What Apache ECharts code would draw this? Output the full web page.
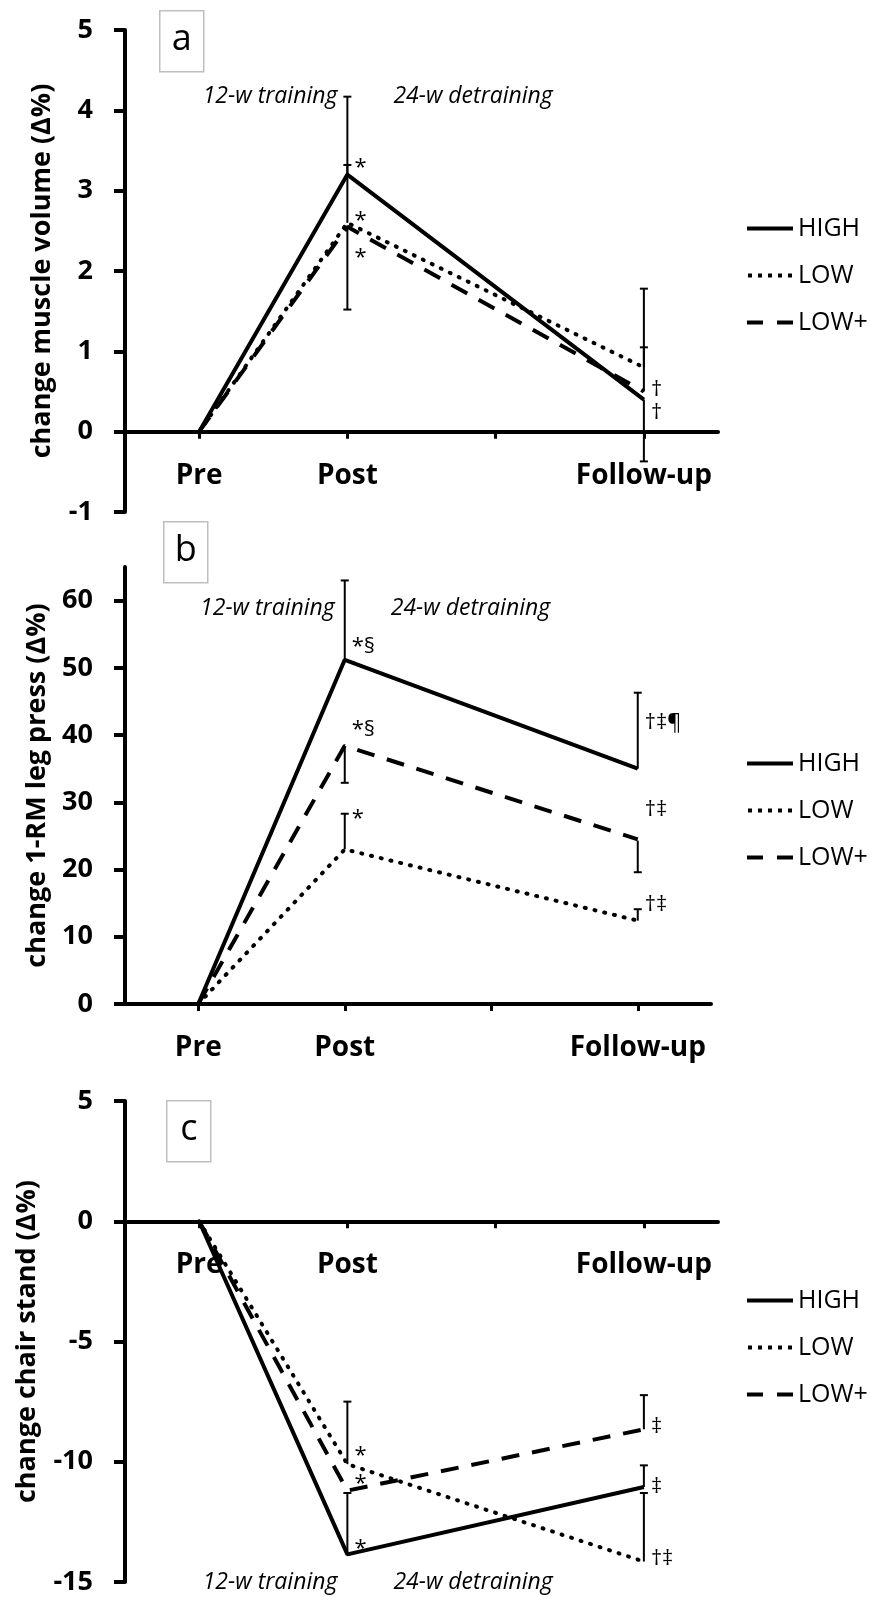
<!DOCTYPE html>
<html>
<head>
<meta charset="utf-8">
<title>change from Pre</title>
<script src="https://cdn.jsdelivr.net/npm/echarts@6.0.0/dist/echarts.min.js"></script>
<style>body{margin:0;background:#fff;}</style>
</head>
<body>
<div id="chartmain" style="width:870px;height:1597px;"></div>
<script>
// categories (blank slot keeps the spacing of the original x axis)
var categories = ['Pre', 'Post', '', 'Follow-up'];
var groups = ['HIGH', 'LOW', 'LOW+'];
var phaseLabels = ['12-w training', '24-w detraining'];

// a: muscle volume
var volHigh = [0, 3.2, null, 0.4];
var volLow = [0, 2.6, null, 0.8];
var volLowPlus = [0, 2.55, null, 0.5];
var volErr = [[1, 3.2, 4.17], [1, 2.6, 3.32], [1, 2.55, 1.52], [3, 0.4, -0.37], [3, 0.8, 1.78], [3, 0.5, 1.05]];
var volMarks = [[1, 3.28, '*'], [1, 2.62, '*'], [1, 2.17, '*'], [3, 0.52, '†'], [3, 0.23, '†']];
var volPhaseY = 4.17;

// b: 1-RM leg press
var legHigh = [0, 51.2, null, 35.0];
var legLow = [0, 23.0, null, 12.4];
var legLowPlus = [0, 38.4, null, 24.5];
var legErr = [[1, 51.2, 63.0], [1, 38.4, 32.9], [1, 23.0, 28.3], [3, 35.0, 46.3], [3, 24.3, 19.6], [3, 12.4, 14.1]];
var legMarks = [[1, 53.2, '*§'], [1, 40.8, '*§'], [1, 27.6, '*'], [3, 41.8, '†‡¶'], [3, 28.9, '†‡'], [3, 14.8, '†‡']];
var legPhaseY = 58.8;
var legTicks = [0, 10, 20, 30, 40, 50, 60];

// c: chair stand
var chairHigh = [0, -13.85, null, -11.05];
var chairLow = [0, -10.1, null, -14.15];
var chairLowPlus = [0, -11.2, null, -8.65];
var chairErr = [[1, -13.85, -11.3], [1, -10.1, -7.5], [3, -8.65, -7.23], [3, -11.05, -10.15], [3, -14.15, -11.3]];
var chairMarks = [[1, -9.75, '*'], [1, -10.9, '*'], [1, -13.6, '*'], [3, -8.55, '‡'], [3, -11.05, '‡'], [3, -14.05, '†‡']];
var chairPhaseY = -15;

var FONT = 'Open Sans';

function errBar(params, api) {
    var a = api.coord([api.value(0), api.value(1)]);
    var b = api.coord([api.value(0), api.value(2)]);
    return {
        type: 'group',
        children: [
            { type: 'line', shape: { x1: a[0], y1: a[1], x2: b[0], y2: b[1] }, style: { stroke: '#000', lineWidth: 2 } },
            { type: 'line', shape: { x1: b[0] - 4, y1: b[1], x2: b[0] + 4, y2: b[1] }, style: { stroke: '#000', lineWidth: 2 } }
        ]
    };
}

function markText(list) {
    return function (params, api) {
        var d = list[params.dataIndex];
        var p = api.coord([d[0], d[1]]);
        return {
            type: 'text', x: p[0] + 7, y: p[1],
            style: { text: d[2], fill: '#000', fontSize: 22, fontFamily: FONT, align: 'left', verticalAlign: 'middle' }
        };
    };
}

function phaseText(params, api) {
    var p = api.coord([api.value(0), api.value(1)]);
    var first = params.dataIndex === 0;
    return {
        type: 'text', x: p[0] + (first ? -10 : 46), y: p[1],
        style: {
            text: phaseLabels[params.dataIndex], fill: '#000', fontSize: 23, fontFamily: FONT,
            fontStyle: 'italic', align: first ? 'right' : 'left', verticalAlign: 'middle'
        }
    };
}

var panels = [
    { high: volHigh, low: volLow, lowPlus: volLowPlus, err: volErr, marks: volMarks, phaseY: volPhaseY },
    { high: legHigh, low: legLow, lowPlus: legLowPlus, err: legErr, marks: legMarks, phaseY: legPhaseY },
    { high: chairHigh, low: chairLow, lowPlus: chairLowPlus, err: chairErr, marks: chairMarks, phaseY: chairPhaseY }
];

var lineStyles = [
    { color: '#000', width: 4, type: 'solid' },
    { color: '#000', width: 4, type: [1, 9], cap: 'round' },
    { color: '#000', width: 4, type: [18, 13] }
];

// legend icons drawn as paths so the dash pattern reads like the original key
var legendIcons = [
    'path://M0,0H46V4H0Z',
    'path://M0,0h4v4h-4zM10,0h4v4h-4zM20,0h4v4h-4zM30,0h4v4h-4zM40,0h4v4h-4z',
    'path://M0,0h16v4h-16zM30,0h16v4h-16z'
];

var series = [];
panels.forEach(function (p, i) {
    [p.high, p.low, p.lowPlus].forEach(function (vals, k) {
        series.push({
            name: groups[k], type: 'line', xAxisIndex: i, yAxisIndex: i,
            data: vals, connectNulls: true, symbol: 'none',
            lineStyle: lineStyles[k], itemStyle: { color: '#000' }, z: 3
        });
    });
    series.push({
        type: 'custom', xAxisIndex: i, yAxisIndex: i, renderItem: errBar,
        encode: { x: 0, y: [1, 2] }, data: p.err, z: 2
    });
    series.push({
        type: 'custom', xAxisIndex: i, yAxisIndex: i, renderItem: markText(p.marks),
        encode: { x: 0, y: 1 }, data: p.marks.map(function (d) { return [d[0], d[1]]; }), z: 4
    });
    series.push({
        type: 'custom', xAxisIndex: i, yAxisIndex: i, renderItem: phaseText,
        encode: { x: 0, y: 1 }, data: [[1, p.phaseY], [1, p.phaseY]], z: 4
    });
});

// x axis sits on the zero line: shift it up from the grid bottom
function xAxis(i, offset) {
    return {
        type: 'category', gridIndex: i, data: categories, boundaryGap: true, offset: offset,
        axisLine: { onZero: false, lineStyle: { color: '#000', width: 4 } },
        axisTick: { show: true, alignWithLabel: true, length: 7, lineStyle: { color: '#000', width: 3 } },
        axisLabel: { interval: 0, margin: 30, color: '#000', fontSize: 28, fontWeight: 'bold', fontFamily: FONT },
        splitLine: { show: false }
    };
}

function yAxis(i, name, min, max, interval, gap) {
    return {
        type: 'value', gridIndex: i, min: min, max: max, interval: interval,
        name: name, nameLocation: 'middle', nameGap: gap,
        nameTextStyle: { color: '#000', fontSize: 27, fontWeight: 'bold', fontFamily: FONT },
        axisLine: { show: true, onZero: false, lineStyle: { color: '#000', width: 4 } },
        axisTick: { show: true, length: 11, lineStyle: { color: '#000', width: 4 } },
        axisLabel: { margin: 32, color: '#000', fontSize: 27, fontWeight: 'bold', fontFamily: FONT },
        splitLine: { show: false }
    };
}

var yB = yAxis(1, 'change 1-RM leg press (Δ%)', 0, 65, 10, 74);
yB.axisTick.customValues = legTicks;
yB.axisLabel.customValues = legTicks;

function legend(top) {
    return {
        data: groups.map(function (g, k) { return { name: g, icon: legendIcons[k] }; }),
        orient: 'vertical', left: 742, top: top,
        itemWidth: 46, itemHeight: 4, itemGap: 22, selectedMode: false,
        itemStyle: { color: '#000', borderWidth: 0 },
        textStyle: { color: '#000', fontSize: 25, fontFamily: FONT }
    };
}

function box(x, y, letter) {
    return {
        type: 'group', left: x, top: y,
        children: [
            { type: 'rect', shape: { x: 0, y: 0, width: 44, height: 61 }, style: { fill: '#fff', stroke: '#bfbfbf', lineWidth: 1.5 } },
            { type: 'text', x: 22, y: 29, style: { text: letter, fill: '#000', fontSize: 36, fontFamily: FONT, align: 'center', verticalAlign: 'middle' } }
        ]
    };
}

var option = {
    animation: false,
    backgroundColor: '#fff',
    grid: [
        { left: 125, top: 30, width: 593, height: 482, outerBoundsMode: 'none' },
        { left: 125, top: 567, width: 586, height: 437, outerBoundsMode: 'none' },
        { left: 125, top: 1101, width: 593, height: 481, outerBoundsMode: 'none' }
    ],
    xAxis: [xAxis(0, -80.3), xAxis(1, 0), xAxis(2, -360.75)],
    yAxis: [
        yAxis(0, 'change muscle volume (Δ%)', -1, 5, 1, 69),
        yB,
        yAxis(2, 'change chair stand (Δ%)', -15, 5, 5, 84)
    ],
    legend: [legend(211), legend(746), legend(1283)],
    graphic: [box(159, 10, 'a'), box(163, 521, 'b'), box(166, 1100, 'c')],
    series: series
};

var myChart = echarts.init(document.getElementById('chartmain'));
myChart.setOption(option);
</script>
</body>
</html>
